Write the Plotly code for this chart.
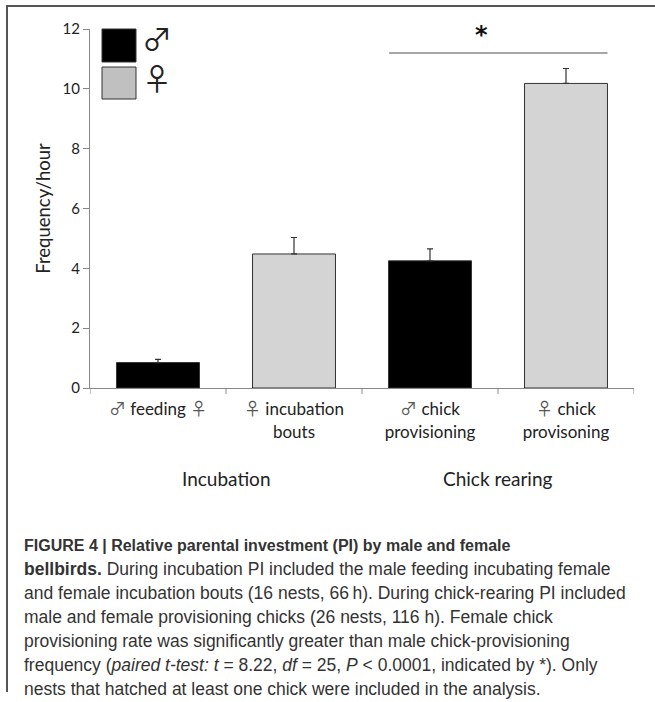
import plotly.graph_objects as go

# Data: mean frequency per hour with upper standard-error whiskers
SYM = "<span style=\"font-family:'Noto Sans CJK JP';color:#555555\">{}</span>"
MALE, FEMALE = SYM.format("♂"), SYM.format("♀")
categories = [
    f"{MALE} feeding {FEMALE}",
    f"{FEMALE} incubation<br>bouts",
    f"{MALE} chick<br>provisioning",
    f"{FEMALE} chick<br>provisoning",
]
means = [0.85, 4.48, 4.25, 10.18]
errors = [0.11, 0.55, 0.40, 0.50]
sexes = ["male", "female", "male", "female"]
groups = ["Incubation", "Chick rearing"]
y_ticks = [0, 2, 4, 6, 8, 10, 12]
sig_level = 11.2

caption_lines = [
    "<b>FIGURE 4 | Relative parental investment (PI) by male and female</b>",
    "<b>bellbirds.</b> During incubation PI included the male feeding incubating female",
    "and female incubation bouts (16 nests, 66\u2009h). During chick-rearing PI included",
    "male and female provisioning chicks (26 nests, 116 h). Female chick",
    "provisioning rate was significantly greater than male chick-provisioning",
    "frequency (<i>paired t-test: t</i> = 8.22, <i>df</i> = 25, <i>P</i> &lt; 0.0001, indicated by *). Only",
    "nests that hatched at least one chick were included in the analysis.",
]
caption_sizes = [16, 17.5, 17.5, 17.5, 17.5, 17.5, 17.5]

FILL = {"male": "#000000", "female": "#d4d4d4"}

W, H = 655, 702
L, R, T, B = 90, 634, 29, 388   # plot area in pixels
PW, PH = R - L, B - T


def px(x):
    return (x - L) / PW


def py(y):
    return (B - y) / PH


fig = go.Figure()
fig.add_trace(go.Bar(
    x=list(range(len(categories))), y=means,
    width=0.61,
    marker=dict(color=[FILL[s] for s in sexes], line=dict(color="#333333", width=1)),
    error_y=dict(type="data", symmetric=False, array=errors, arrayminus=[0] * len(errors),
                 color="#333333", thickness=1.2, width=3),
    showlegend=False,
))

shapes = []
annotations = []

# frame around the figure (top and left rules)
shapes.append(dict(type="line", xref="paper", yref="paper", x0=px(7), x1=px(656), y0=py(6), y1=py(6),
                   line=dict(color="#555555", width=2)))
shapes.append(dict(type="line", xref="paper", yref="paper", x0=px(7), x1=px(7), y0=py(5), y1=py(692),
                   line=dict(color="#555555", width=2)))

# legend swatches
shapes.append(dict(type="rect", xref="paper", yref="paper", x0=px(102), x1=px(136), y0=py(29), y1=py(62),
                   fillcolor=FILL["male"], line=dict(color="#333333", width=1)))
shapes.append(dict(type="rect", xref="paper", yref="paper", x0=px(102), x1=px(136), y0=py(67), y1=py(99),
                   fillcolor="#c0c0c0", line=dict(color="#333333", width=1)))
for sym, yc in (("♂", 37), ("♀", 77)):
    annotations.append(dict(text=sym, xref="paper", yref="paper", x=px(157), y=py(yc),
                            xanchor="center", yanchor="middle", showarrow=False,
                            font=dict(family="Noto Sans CJK JP", size=30, color="#222222")))

# significance bracket between the two chick-rearing bars
shapes.append(dict(type="line", xref="x", yref="y", x0=1.7, x1=3.305, y0=sig_level, y1=sig_level,
                   line=dict(color="#888888", width=1.5)))
annotations.append(dict(text="<b>*</b>", xref="x", yref="y", x=2.38, y=sig_level,
                        xanchor="center", yanchor="bottom", yshift=2, showarrow=False,
                        font=dict(family="DejaVu Sans", size=24, color="#111111")))

# group labels under the category axis
for gi, g in enumerate(groups):
    annotations.append(dict(text=g, xref="x", yref="paper", x=gi * 2 + 0.5, y=py(478),
                            xanchor="center", yanchor="middle", showarrow=False,
                            font=dict(family="Lato", size=19, color="#222222")))

# caption
for i, (line, size) in enumerate(zip(caption_lines, caption_sizes)):
    annotations.append(dict(text=line, xref="paper", yref="paper", x=px(22), xanchor="left",
                            y=py(545 + i * 24), yanchor="middle", showarrow=False, align="left",
                            font=dict(family="Liberation Sans", size=size, color="#333333")))

fig.update_layout(
    width=W, height=H, autosize=False,
    margin=dict(l=L, r=W - R, t=T, b=H - B),
    paper_bgcolor="white", plot_bgcolor="white",
    shapes=shapes, annotations=annotations,
)
fig.update_xaxes(
    range=[-0.5, 3.5],
    tickvals=list(range(len(categories))), ticktext=categories,
    showline=True, linecolor="#888888", linewidth=1,
    ticks="", showgrid=False, zeroline=False,
    ticklabelstandoff=6,
    tickfont=dict(family="Lato", size=17, color="#222222"),
)
# ticks on category boundaries
for b in (-0.5, 0.5, 1.5, 2.5, 3.5):
    fig.add_shape(type="line", xref="x", yref="paper", x0=b, x1=b, y0=0, y1=-6 / PH,
                  line=dict(color="#888888", width=1))
fig.update_yaxes(
    range=[0, 12], tickvals=y_ticks,
    showline=True, linecolor="#888888", linewidth=1,
    ticks="outside", ticklen=6, tickcolor="#888888",
    tickfont=dict(family="Lato", size=15, color="#222222"),
    showgrid=False, zeroline=False,
    title=dict(text="Frequency/hour", font=dict(family="Lato", size=18.5, color="#222222"), standoff=7),
)

fig.write_html("out.html")
